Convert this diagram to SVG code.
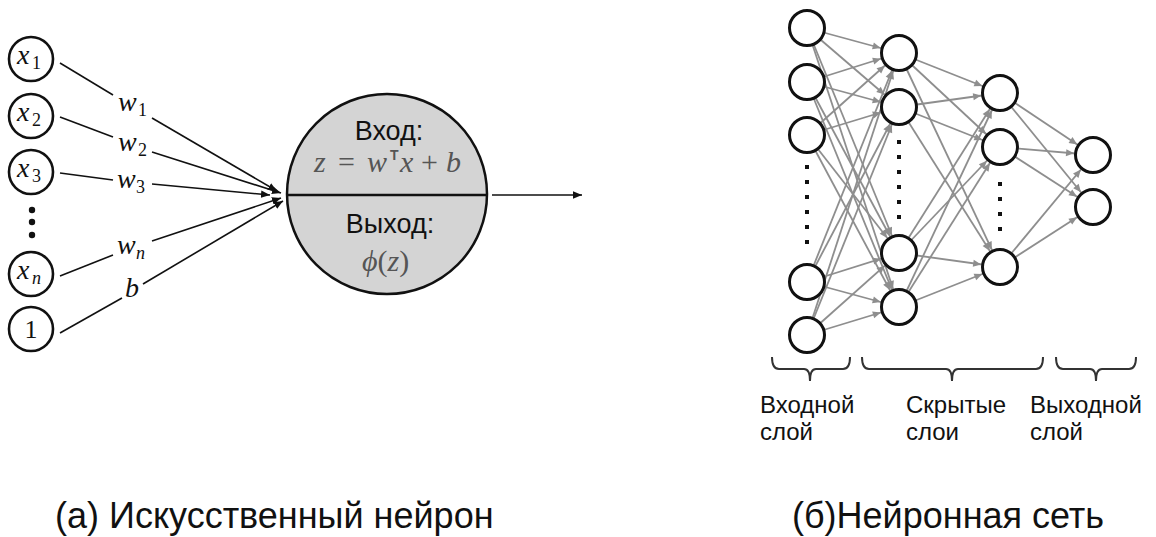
<svg xmlns="http://www.w3.org/2000/svg" width="1156" height="537" viewBox="0 0 1156 537">
  <defs>
    <style>
      .sans { font-family: "Liberation Sans", Arial, sans-serif; fill: #111; }
      .math { font-family: "Liberation Serif", "DejaVu Serif", "Times New Roman", serif; fill: #111; }
      .it { font-style: italic; }
      .gray { fill: #555; }
      .inode { fill: #fff; stroke: #111; stroke-width: 2.6; }
      .nnode { fill: #fff; stroke: #111; stroke-width: 3; }
      .wire { stroke: #111; stroke-width: 1.6; fill: none; }
      .edge { stroke: #8e8e8e; stroke-width: 1.8; fill: none; }
      .brace { stroke: #333; stroke-width: 2; fill: none; }
      .dot { fill: #111; }
    </style>
    <marker id="arrowBlack" markerUnits="userSpaceOnUse" viewBox="0 -5 10 10" markerWidth="10" markerHeight="10" refX="9" refY="0" orient="auto">
      <path d="M0,-3.8 L9,0 L0,3.8 z" fill="#111"/>
    </marker>
    <!-- tip sits on the edge of the target circle; lines run centre to centre -->
    <marker id="arrowGray" markerUnits="userSpaceOnUse" viewBox="0 -5 30 10" markerWidth="30" markerHeight="10" refX="30" refY="0" orient="auto">
      <path d="M3,-3.5 L11,0 L3,3.5 z" fill="#8e8e8e"/>
    </marker>
  </defs>

  <rect width="1156" height="537" fill="#fff"/>

  <!-- ===== (a) artificial neuron ===== -->
  <g id="neuron-connectors">
    <path class="wire" d="M60,63 L113,95"/>
    <path class="wire" d="M152,118 L277,191" marker-end="url(#arrowBlack)"/>
    <path class="wire" d="M60,117 L113,137"/>
    <path class="wire" d="M152,152 L281,193" marker-end="url(#arrowBlack)"/>
    <path class="wire" d="M60,173 L113,180"/>
    <path class="wire" d="M152,184 L270,195" marker-end="url(#arrowBlack)"/>
    <path class="wire" d="M60,276 L113,255"/>
    <path class="wire" d="M152,241 L281,198" marker-end="url(#arrowBlack)"/>
    <path class="wire" d="M60,333 L122,298"/>
    <path class="wire" d="M143,284 L283,201" marker-end="url(#arrowBlack)"/>
    <path class="wire" d="M492,195 L582,195" marker-end="url(#arrowBlack)"/>
  </g>

  <g id="weight-labels">
    <text class="math it" x="118" y="111" font-size="28">w</text>
    <text class="math" x="138" y="116" font-size="18">1</text>
    <text class="math it" x="118" y="151" font-size="28">w</text>
    <text class="math" x="138" y="156" font-size="18">2</text>
    <text class="math it" x="117" y="188" font-size="28">w</text>
    <text class="math" x="136" y="193" font-size="18">3</text>
    <text class="math it" x="117" y="254" font-size="28">w</text>
    <text class="math it" x="136" y="259" font-size="18">n</text>
    <text class="math it" x="125" y="297" font-size="28">b</text>
  </g>

  <g id="input-x1">
    <circle class="inode" cx="31" cy="59" r="22"/>
    <text class="math it" x="17" y="64" font-size="28">x</text>
    <text class="math" x="32" y="69" font-size="18">1</text>
  </g>
  <g id="input-x2">
    <circle class="inode" cx="31" cy="116" r="22"/>
    <text class="math it" x="17" y="121" font-size="28">x</text>
    <text class="math" x="32" y="126" font-size="18">2</text>
  </g>
  <g id="input-x3">
    <circle class="inode" cx="31" cy="172" r="22"/>
    <text class="math it" x="17" y="177" font-size="28">x</text>
    <text class="math" x="32" y="182" font-size="18">3</text>
  </g>
  <g id="input-dots">
    <circle class="dot" cx="32" cy="210" r="3.2"/>
    <circle class="dot" cx="32" cy="222" r="3.2"/>
    <circle class="dot" cx="32" cy="235" r="3.2"/>
  </g>
  <g id="input-xn">
    <circle class="inode" cx="31" cy="274" r="22"/>
    <text class="math it" x="17" y="279" font-size="28">x</text>
    <text class="math it" x="32" y="284" font-size="18">n</text>
  </g>
  <g id="input-bias">
    <circle class="inode" cx="31" cy="329" r="22"/>
    <text class="math" x="31" y="338" font-size="26" text-anchor="middle">1</text>
  </g>

  <g id="neuron">
    <circle cx="387" cy="194" r="100" fill="#d4d4d4" stroke="#111" stroke-width="2.5"/>
    <line x1="287" y1="195" x2="487" y2="195" stroke="#111" stroke-width="2.5"/>
    <text class="sans" x="389" y="140" font-size="27" text-anchor="middle">Вход:</text>
    <text class="math gray" y="172" font-size="30"><tspan x="314" font-style="italic">z</tspan><tspan x="338">=</tspan><tspan x="367" font-style="italic">w</tspan><tspan x="390" y="160" font-size="14" font-family="Liberation Sans, sans-serif" font-weight="bold">T</tspan><tspan x="400" y="172" font-style="italic">x</tspan><tspan x="421">+</tspan><tspan x="446" font-style="italic">b</tspan></text>
    <text class="sans" x="390" y="233" font-size="27" text-anchor="middle">Выход:</text>
    <text class="math gray" x="362" y="271" font-size="30"><tspan font-style="italic">ϕ</tspan><tspan>(</tspan><tspan font-style="italic">z</tspan><tspan>)</tspan></text>
  </g>

  <text id="caption-a" class="sans" x="55" y="528" font-size="36">(а) Искусственный нейрон</text>

  <!-- ===== (б) neural network ===== -->
  <g id="network-connectors">
    <!-- input layer -> first hidden layer -->
    <line class="edge" x1="807" y1="28" x2="899" y2="53" marker-end="url(#arrowGray)"/>
    <line class="edge" x1="807" y1="28" x2="899" y2="107" marker-end="url(#arrowGray)"/>
    <line class="edge" x1="807" y1="28" x2="899" y2="253" marker-end="url(#arrowGray)"/>
    <line class="edge" x1="807" y1="28" x2="899" y2="307" marker-end="url(#arrowGray)"/>
    <line class="edge" x1="807" y1="82" x2="899" y2="53" marker-end="url(#arrowGray)"/>
    <line class="edge" x1="807" y1="82" x2="899" y2="107" marker-end="url(#arrowGray)"/>
    <line class="edge" x1="807" y1="82" x2="899" y2="253" marker-end="url(#arrowGray)"/>
    <line class="edge" x1="807" y1="82" x2="899" y2="307" marker-end="url(#arrowGray)"/>
    <line class="edge" x1="807" y1="135" x2="899" y2="53" marker-end="url(#arrowGray)"/>
    <line class="edge" x1="807" y1="135" x2="899" y2="107" marker-end="url(#arrowGray)"/>
    <line class="edge" x1="807" y1="135" x2="899" y2="253" marker-end="url(#arrowGray)"/>
    <line class="edge" x1="807" y1="135" x2="899" y2="307" marker-end="url(#arrowGray)"/>
    <line class="edge" x1="807" y1="282" x2="899" y2="53" marker-end="url(#arrowGray)"/>
    <line class="edge" x1="807" y1="282" x2="899" y2="107" marker-end="url(#arrowGray)"/>
    <line class="edge" x1="807" y1="282" x2="899" y2="253" marker-end="url(#arrowGray)"/>
    <line class="edge" x1="807" y1="282" x2="899" y2="307" marker-end="url(#arrowGray)"/>
    <line class="edge" x1="807" y1="335" x2="899" y2="53" marker-end="url(#arrowGray)"/>
    <line class="edge" x1="807" y1="335" x2="899" y2="107" marker-end="url(#arrowGray)"/>
    <line class="edge" x1="807" y1="335" x2="899" y2="253" marker-end="url(#arrowGray)"/>
    <line class="edge" x1="807" y1="335" x2="899" y2="307" marker-end="url(#arrowGray)"/>
    <!-- first hidden -> second hidden -->
    <line class="edge" x1="899" y1="53" x2="1000" y2="93" marker-end="url(#arrowGray)"/>
    <line class="edge" x1="899" y1="53" x2="1000" y2="147" marker-end="url(#arrowGray)"/>
    <line class="edge" x1="899" y1="53" x2="1000" y2="267" marker-end="url(#arrowGray)"/>
    <line class="edge" x1="899" y1="107" x2="1000" y2="93" marker-end="url(#arrowGray)"/>
    <line class="edge" x1="899" y1="107" x2="1000" y2="147" marker-end="url(#arrowGray)"/>
    <line class="edge" x1="899" y1="107" x2="1000" y2="267" marker-end="url(#arrowGray)"/>
    <line class="edge" x1="899" y1="253" x2="1000" y2="93" marker-end="url(#arrowGray)"/>
    <line class="edge" x1="899" y1="253" x2="1000" y2="147" marker-end="url(#arrowGray)"/>
    <line class="edge" x1="899" y1="253" x2="1000" y2="267" marker-end="url(#arrowGray)"/>
    <line class="edge" x1="899" y1="307" x2="1000" y2="93" marker-end="url(#arrowGray)"/>
    <line class="edge" x1="899" y1="307" x2="1000" y2="147" marker-end="url(#arrowGray)"/>
    <line class="edge" x1="899" y1="307" x2="1000" y2="267" marker-end="url(#arrowGray)"/>
    <!-- second hidden -> output -->
    <line class="edge" x1="1000" y1="93" x2="1093" y2="155" marker-end="url(#arrowGray)"/>
    <line class="edge" x1="1000" y1="93" x2="1093" y2="207" marker-end="url(#arrowGray)"/>
    <line class="edge" x1="1000" y1="147" x2="1093" y2="155" marker-end="url(#arrowGray)"/>
    <line class="edge" x1="1000" y1="147" x2="1093" y2="207" marker-end="url(#arrowGray)"/>
    <line class="edge" x1="1000" y1="267" x2="1093" y2="155" marker-end="url(#arrowGray)"/>
    <line class="edge" x1="1000" y1="267" x2="1093" y2="207" marker-end="url(#arrowGray)"/>
  </g>

  <g id="layer-input">
    <circle class="nnode" cx="807" cy="28" r="17.5"/>
    <circle class="nnode" cx="807" cy="82" r="17.5"/>
    <circle class="nnode" cx="807" cy="135" r="17.5"/>
    <rect class="dot" x="805" y="165" width="4" height="4"/>
    <rect class="dot" x="805" y="180" width="4" height="4"/>
    <rect class="dot" x="805" y="195" width="4" height="4"/>
    <rect class="dot" x="805" y="210" width="4" height="4"/>
    <rect class="dot" x="805" y="225" width="4" height="4"/>
    <rect class="dot" x="805" y="240" width="4" height="4"/>
    <circle class="nnode" cx="807" cy="282" r="17.5"/>
    <circle class="nnode" cx="807" cy="335" r="17.5"/>
  </g>
  <g id="layer-hidden-1">
    <circle class="nnode" cx="899" cy="53" r="17.5"/>
    <circle class="nnode" cx="899" cy="107" r="17.5"/>
    <rect class="dot" x="897" y="140" width="4" height="4"/>
    <rect class="dot" x="897" y="155" width="4" height="4"/>
    <rect class="dot" x="897" y="170" width="4" height="4"/>
    <rect class="dot" x="897" y="185" width="4" height="4"/>
    <rect class="dot" x="897" y="200" width="4" height="4"/>
    <rect class="dot" x="897" y="215" width="4" height="4"/>
    <circle class="nnode" cx="899" cy="253" r="17.5"/>
    <circle class="nnode" cx="899" cy="307" r="17.5"/>
  </g>
  <g id="layer-hidden-2">
    <circle class="nnode" cx="1000" cy="93" r="17.5"/>
    <circle class="nnode" cx="1000" cy="147" r="17.5"/>
    <rect class="dot" x="998" y="182" width="4" height="4"/>
    <rect class="dot" x="998" y="197" width="4" height="4"/>
    <rect class="dot" x="998" y="212" width="4" height="4"/>
    <rect class="dot" x="998" y="227" width="4" height="4"/>
    <circle class="nnode" cx="1000" cy="267" r="17.5"/>
  </g>
  <g id="layer-output">
    <circle class="nnode" cx="1093" cy="155" r="17.5"/>
    <circle class="nnode" cx="1093" cy="207" r="17.5"/>
  </g>

  <g id="layer-braces">
    <path class="brace" d="M772,357 Q772,369 779,369 H804 Q810,369 810,381 Q810,369 816,369 H843 Q850,369 850,357"/>
    <path class="brace" d="M862,357 Q862,369 869,369 H946 Q952,369 952,381 Q952,369 958,369 H1036 Q1043,369 1043,357"/>
    <path class="brace" d="M1056,357 Q1056,369 1063,369 H1090 Q1096,369 1096,381 Q1096,369 1102,369 H1129 Q1136,369 1136,357"/>
  </g>

  <g id="layer-labels" font-size="24">
    <text class="sans" x="760" y="413">Входной</text>
    <text class="sans" x="760" y="440">слой</text>
    <text class="sans" x="906" y="413">Скрытые</text>
    <text class="sans" x="906" y="440">слои</text>
    <text class="sans" x="1030" y="413">Выходной</text>
    <text class="sans" x="1030" y="440">слой</text>
  </g>

  <text id="caption-b" class="sans" x="792" y="528" font-size="36">(б)Нейронная сеть</text>
</svg>
